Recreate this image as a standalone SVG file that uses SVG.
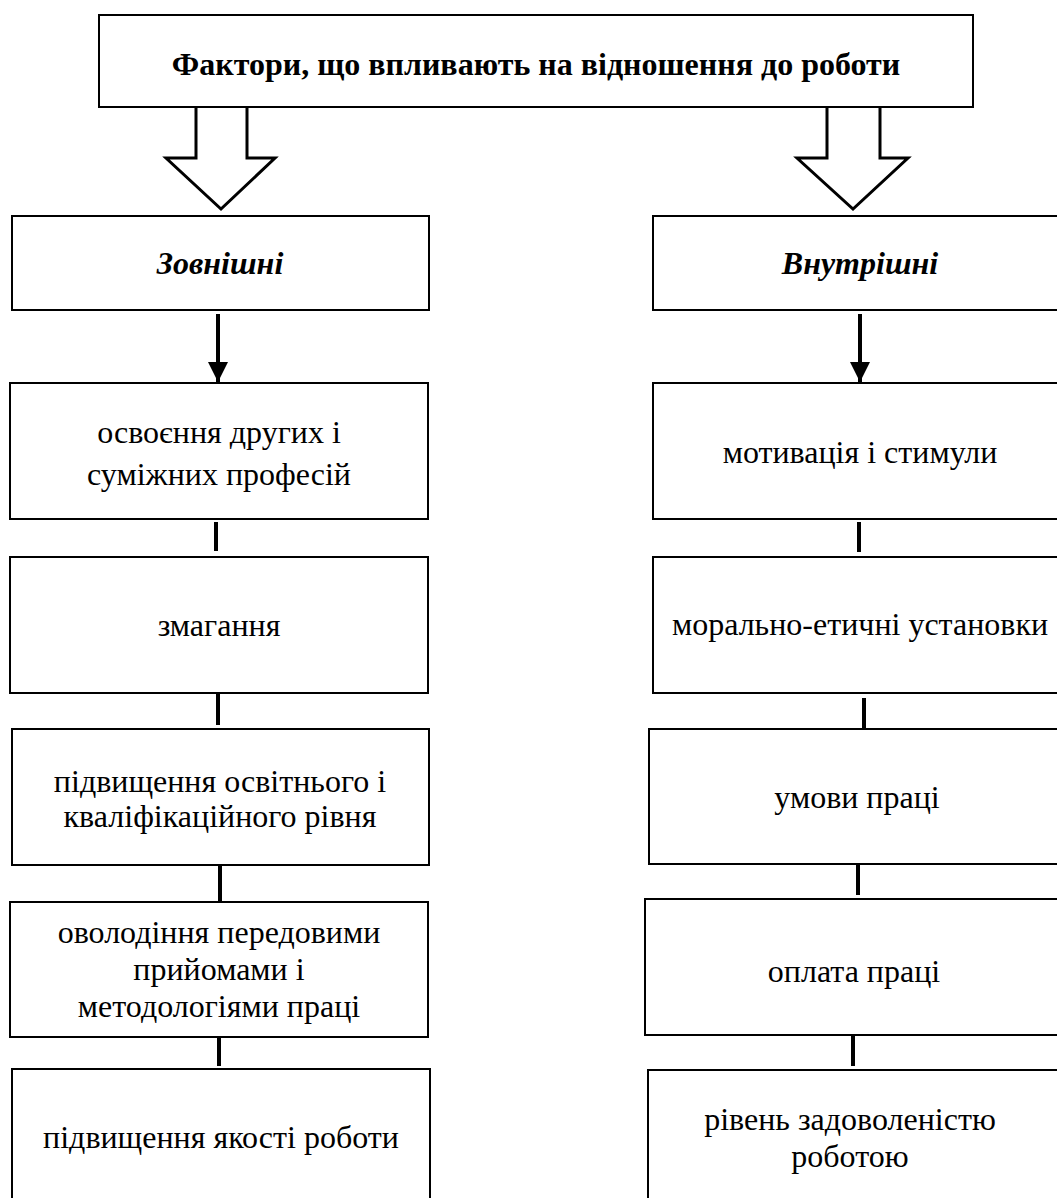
<svg xmlns="http://www.w3.org/2000/svg" width="1057" height="1198" viewBox="0 0 1057 1198">
<style>
.box{fill:#fff;stroke:#000;stroke-width:2}
.t{font-family:'Liberation Serif','Times New Roman',serif;font-size:32px;fill:#000;text-anchor:middle}
.b{font-weight:bold}
.bi{font-weight:bold;font-style:italic}
.con{stroke:#000;stroke-width:4;fill:none}
.hollow{fill:#fff;stroke:#000;stroke-width:3;stroke-linejoin:miter}
</style>
<defs>
<marker id="ah" viewBox="0 0 10 10" refX="10" refY="5" markerWidth="5" markerHeight="5" markerUnits="strokeWidth" orient="auto">
<path d="M0,0 L10,5 L0,10 Z" fill="#000"/>
</marker>
</defs>
<rect width="1057" height="1198" fill="#fff"/>
<g id="connectors">
<polygon class="hollow" points="196,106 247,106 247,158 275,158 221,209 166,158 196,158"/>
<polygon class="hollow" points="827,106 880,106 880,158 908,158 853,209 797,158 827,158"/>
<line class="con" x1="218" y1="314" x2="218" y2="382" marker-end="url(#ah)"/>
<line class="con" x1="860" y1="314" x2="860" y2="382" marker-end="url(#ah)"/>
<line class="con" x1="216" y1="522" x2="216" y2="551"/>
<line class="con" x1="218" y1="694" x2="218" y2="725"/>
<line class="con" x1="220" y1="866" x2="220" y2="902"/>
<line class="con" x1="219" y1="1038" x2="219" y2="1066"/>
<line class="con" x1="859" y1="522" x2="859" y2="552"/>
<line class="con" x1="864" y1="698" x2="864" y2="729"/>
<line class="con" x1="858" y1="865" x2="858" y2="895"/>
<line class="con" x1="853" y1="1036" x2="853" y2="1066"/>
</g>
<g id="top">
<rect class="box" x="99" y="15" width="874" height="92"/>
<text class="t b" x="536" y="75">Фактори, що впливають на відношення до роботи</text>
</g>
<g id="external">
<rect class="box" x="12" y="216" width="417" height="94"/>
<text class="t bi" x="220" y="274">Зовнішні</text>
</g>
<g id="internal">
<rect class="box" x="653" y="216" width="420" height="94"/>
<text class="t bi" x="860" y="274">Внутрішні</text>
</g>
<g id="l1">
<rect class="box" x="10" y="383" width="418" height="136"/>
<text class="t" x="219" y="443">освоєння других і</text>
<text class="t" x="219" y="485">суміжних професій</text>
</g>
<g id="l2">
<rect class="box" x="10" y="557" width="418" height="136"/>
<text class="t" x="219" y="636">змагання</text>
</g>
<g id="l3">
<rect class="box" x="12" y="729" width="417" height="136"/>
<text class="t" x="220" y="792">підвищення освітнього і</text>
<text class="t" x="220" y="827">кваліфікаційного рівня</text>
</g>
<g id="l4">
<rect class="box" x="10" y="902" width="418" height="135"/>
<text class="t" x="219" y="943">оволодіння передовими</text>
<text class="t" x="219" y="980">прийомами і</text>
<text class="t" x="219" y="1017">методологіями праці</text>
</g>
<g id="l5">
<rect class="box" x="12" y="1069" width="418" height="150"/>
<text class="t" x="221" y="1148">підвищення якості роботи</text>
</g>
<g id="r1">
<rect class="box" x="653" y="383" width="420" height="136"/>
<text class="t" x="860" y="463">мотивація і стимули</text>
</g>
<g id="r2">
<rect class="box" x="653" y="557" width="420" height="136"/>
<text class="t" x="860" y="635">морально-етичні установки</text>
</g>
<g id="r3">
<rect class="box" x="649" y="729" width="424" height="135"/>
<text class="t" x="857" y="808">умови праці</text>
</g>
<g id="r4">
<rect class="box" x="645" y="899" width="428" height="136"/>
<text class="t" x="854" y="982">оплата праці</text>
</g>
<g id="r5">
<rect class="box" x="648" y="1070" width="425" height="150"/>
<text class="t" x="850" y="1130">рівень задоволеністю</text>
<text class="t" x="850" y="1167">роботою</text>
</g>
</svg>
